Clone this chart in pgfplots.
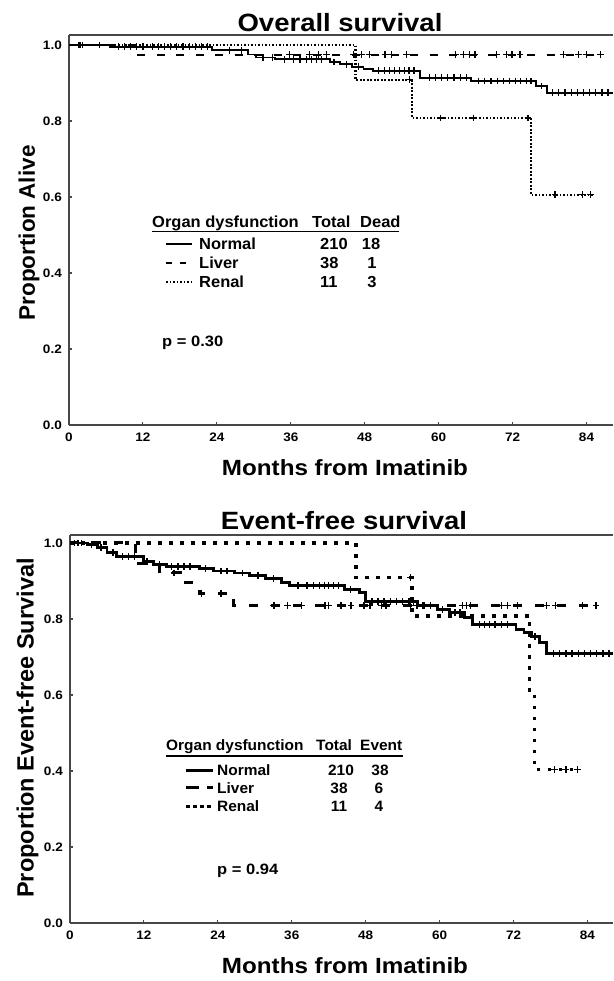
\documentclass[border=0pt]{standalone}
\usepackage{fontspec}
\setmainfont{Liberation Sans}[FakeStretch=1.1]
\newfontfamily\ylabfont{Liberation Sans}
\newfontfamily\legfont{Liberation Sans}[FakeStretch=1.03]
\usepackage{pgfplots}
\pgfplotsset{compat=1.18}

\pgfplotsset{
  kmaxis/.style={
    scale only axis, anchor=south west,
    axis x line*=bottom, axis y line*=left,
    x axis line style={-}, y axis line style={-},
    axis line style={black!72, line width=1.3pt},
    xmin=0, ymin=0,
    xtick={0,12,24,36,48,60,72,84},
    ytick={0,0.2,0.4,0.6,0.8,1.0},
    /pgf/number format/assume math mode=true,
    yticklabel style={/pgf/number format/fixed, /pgf/number format/fixed zerofill, /pgf/number format/precision=1, inner sep=0pt, xshift=-7pt},
    tick label style={font=\fontsize{12.3}{12.3}\selectfont\bfseries},
    xticklabel style={inner sep=0pt, yshift=-8pt},
    tick align=inside,
    major tick length=3pt,
    tick style={black!72, line width=1.1pt},
    clip=false,
  },
  censor/.style={only marks, mark=+, mark size=3.4pt, black, mark options={line width=1.2pt}},
}

\begin{document}
\begin{tikzpicture}[x=1pt,y=1pt]
\useasboundingbox (0pt,0pt) rectangle (613pt,981pt);

% ---------------- Overall survival ----------------
\node[anchor=base, font=\fontsize{25}{25}\selectfont\bfseries] at (340pt,949.3pt) {Overall survival};
\node[rotate=90, font=\ylabfont\fontsize{22.5}{22.5}\selectfont\bfseries] at (29pt,748pt) {Proportion Alive};
\node[anchor=base, font=\fontsize{22}{22}\selectfont\bfseries] at (345pt,505.7pt) {Months from Imatinib};

\begin{axis}[kmaxis, at={(69pt,556pt)}, width=544pt, height=390pt, xmax=88.3, ymax=1.0263]
\draw[black!72, line width=1.3pt] (rel axis cs:0,1) -- (rel axis cs:1,1);
% Normal
\addplot[const plot, black, line width=1.9pt] coordinates {
(0,1) (6.6,0.995) (23.2,0.986) (29.1,0.975) (30.4,0.967) (33.5,0.962) (42.4,0.955) (44,0.949) (45.9,0.943) (47.8,0.936) (49.4,0.932) (57,0.914) (65.3,0.905) (75.8,0.892) (77.6,0.874) (88.3,0.874)};
\addplot[censor] coordinates {
(1.5,1)(2.2,1)(5,1)(8,0.995)(9,0.995)(10,0.995)(11,0.995)(12,0.995)(13.5,0.995)(14.5,0.995)(15.5,0.995)(16.5,0.995)(17.5,0.995)(18.5,0.995)(19.5,0.995)(20.5,0.995)(21.5,0.995)(22.5,0.995)(26,0.986)(28,0.986)(31.5,0.967)(33,0.967)(35,0.962)(36.5,0.962)(37.5,0.962)(38.5,0.962)(39.3,0.962)(40.2,0.962)(41,0.962)(43,0.955)(45,0.949)(47,0.943)(50.3,0.932)(51.2,0.932)(52,0.932)(52.8,0.932)(53.6,0.932)(54.4,0.932)(55.2,0.932)(56,0.932)(58.5,0.914)(59.5,0.914)(60.5,0.914)(61.5,0.914)(62.5,0.914)(63.5,0.914)(64.5,0.914)(66.5,0.905)(67.5,0.905)(68.5,0.905)(69.5,0.905)(70.5,0.905)(71.5,0.905)(72.5,0.905)(73.3,0.905)(74.2,0.905)(75,0.905)(76.7,0.892)(78.5,0.874)(79.5,0.874)(80.5,0.874)(81.5,0.874)(82.5,0.874)(83.5,0.874)(84.5,0.874)(85.5,0.874)(86.5,0.874)(87.5,0.874)};
% Liver
\addplot[const plot, black, line width=1.9pt, dash pattern=on 8pt off 11.5pt] coordinates {
(0,1) (10.7,0.974) (86.3,0.974)};
\addplot[censor] coordinates {
(35.8,0.974)(39,0.974)(40.5,0.974)(41.8,0.974)(46.2,0.974)(47.5,0.974)(48.8,0.974)(51.3,0.974)(52.3,0.974)(54.8,0.974)(62.7,0.974)(64,0.974)(65,0.974)(65.9,0.974)(69.4,0.974)(71,0.974)(71.9,0.974)(73.2,0.974)(80.2,0.974)(82.7,0.974)(84,0.974)(86.3,0.974)};
% Renal
\addplot[const plot, black, line width=2.1pt, dash pattern=on 1.7pt off 1.8pt] coordinates {
(0,1) (46.5,0.909) (55.7,0.808) (75,0.606) (85.2,0.606)};
\addplot[censor] coordinates {
(1.8,1)(55.3,0.909)(60.3,0.808)(65.6,0.808)(74.5,0.808)(78.9,0.606)(83.4,0.606)(84.6,0.606)};
\end{axis}

% legend (top)
\begin{scope}[font=\legfont\fontsize{16}{16}\selectfont\bfseries]
\node[anchor=base west, inner sep=0pt] at (152pt,753.7pt) {Organ dysfunction};
\node[anchor=base west, inner sep=0pt] at (312pt,753.7pt) {Total};
\node[anchor=base west, inner sep=0pt] at (360pt,753.7pt) {Dead};
\draw[black, line width=1.4pt] (152pt,749.3pt) -- (399pt,749.3pt);
\draw[black, line width=1.9pt] (166pt,737.2pt) -- (192pt,737.2pt);
\draw[black, line width=1.9pt, dash pattern=on 6pt off 8pt] (166pt,718.2pt) -- (192pt,718.2pt);
\draw[black, line width=2.1pt, dash pattern=on 1.7pt off 1.8pt] (166pt,699.2pt) -- (192pt,699.2pt);
\node[anchor=base west, inner sep=0pt] at (199pt,731.7pt) {Normal};
\node[anchor=base west, inner sep=0pt] at (199pt,712.7pt) {Liver};
\node[anchor=base west, inner sep=0pt] at (199pt,693.7pt) {Renal};
\node[anchor=base west, inner sep=0pt] at (320pt,731.7pt) {210};
\node[anchor=base west, inner sep=0pt] at (320pt,712.7pt) {38};
\node[anchor=base west, inner sep=0pt] at (320pt,693.7pt) {11};
\node[anchor=base, inner sep=0pt] at (371pt,731.7pt) {18};
\node[anchor=base, inner sep=0pt] at (372pt,712.7pt) {1};
\node[anchor=base, inner sep=0pt] at (372pt,693.7pt) {3};
\end{scope}
\node[anchor=base west, inner sep=0pt, font=\fontsize{15}{15}\selectfont\bfseries] at (162pt,634.3pt) {p = 0.30};

% ---------------- Event-free survival ----------------
\node[anchor=base, font=\fontsize{25}{25}\selectfont\bfseries] at (344pt,451pt) {Event-free survival};
\node[rotate=90, font=\ylabfont\fontsize{23.5}{23.5}\selectfont\bfseries] at (27.5pt,253pt) {Proportion Event-free Survival};
\node[anchor=base, font=\fontsize{22}{22}\selectfont\bfseries] at (345pt,7.7pt) {Months from Imatinib};

\begin{axis}[kmaxis, at={(70pt,58pt)}, width=543pt, height=388pt, xmax=88.15, ymax=1.021]
\draw[black!72, line width=1.3pt] (rel axis cs:0,1) -- (rel axis cs:1,1);
% Normal
\addplot[const plot, black, line width=2.8pt] coordinates {
(0,1)(2.8,0.995)(4.4,0.988)(6,0.974)(7.6,0.964)(11.9,0.951)(13.5,0.943)(15.7,0.938)(21,0.933)(23.3,0.926)(26.7,0.921)(29.2,0.915)(31.8,0.906)(34.3,0.895)(35.6,0.888)(44.5,0.877)(47,0.869)(48,0.845)(56.5,0.835)(59.7,0.825)(61.6,0.816)(64.1,0.803)(65.4,0.786)(72.4,0.772)(73.7,0.764)(74.9,0.754)(76.2,0.738)(77.4,0.709)(88.2,0.709)};
\addplot[censor, mark options={line width=1.4pt}] coordinates {
(0.7,1)(1.3,1)(1.9,1)(3.5,0.995)(5,0.988)(7,0.974)(8.5,0.964)(9.5,0.964)(10.5,0.964)(12.5,0.951)(14.5,0.943)(16.5,0.938)(17.5,0.938)(18.5,0.938)(19.5,0.938)(22,0.933)(24.5,0.926)(25.5,0.926)(28,0.921)(30.5,0.915)(33,0.906)(37,0.888)(38.5,0.888)(39.5,0.888)(40.5,0.888)(41.3,0.888)(42,0.888)(42.8,0.888)(43.6,0.888)(45.5,0.877)(49,0.845)(50,0.845)(51,0.845)(52,0.845)(53,0.845)(54,0.845)(55,0.845)(55.8,0.845)(57.5,0.835)(58.5,0.835)(60.5,0.825)(62.5,0.816)(63.3,0.816)(66.5,0.786)(67.3,0.786)(68.1,0.786)(69,0.786)(70,0.786)(71,0.786)(75.5,0.754)(78.5,0.709)(79.5,0.709)(80.5,0.709)(81.5,0.709)(82.5,0.709)(83.5,0.709)(84.5,0.709)(85.5,0.709)(86.5,0.709)(87.5,0.709)};
% Liver
\addplot[const plot, black, line width=3pt, dash pattern=on 9pt off 13pt] coordinates {
(0,1)(10.6,0.974)(11.2,0.947)(14.5,0.921)(18,0.895)(21,0.868)(26.6,0.835)(86,0.835)};
\addplot[censor, mark options={line width=1.4pt}] coordinates {
(16.9,0.921)(21.3,0.868)(24.5,0.868)(33.1,0.835)(35.3,0.835)(37.6,0.835)(41.4,0.835)(42,0.835)(44,0.835)(45.6,0.835)(47.7,0.835)(48.7,0.835)(50.6,0.835)(51.3,0.835)(55.3,0.835)(56.3,0.835)(57.3,0.835)(63.7,0.835)(64.4,0.835)(65,0.835)(70,0.835)(71,0.835)(72.6,0.835)(77.4,0.835)(78.8,0.835)(83.2,0.835)(85.4,0.835)};
% Renal
\addplot[const plot, black, line width=3.5pt, dash pattern=on 3.5pt off 7.5pt] coordinates {
(0,1)(46.4,0.909)(55.5,0.808)(74.6,0.606)(75.4,0.404)(82.6,0.404)};
\addplot[censor, mark options={line width=1.4pt}] coordinates {
(1.2,1)(55.3,0.909)(78.7,0.404)(80.5,0.404)(82.4,0.404)};
\end{axis}

% legend (bottom)
\begin{scope}[font=\legfont\fontsize{15}{15}\selectfont\bfseries]
\node[anchor=base west, inner sep=0pt] at (166pt,230pt) {Organ dysfunction};
\node[anchor=base west, inner sep=0pt] at (316pt,230pt) {Total};
\node[anchor=base west, inner sep=0pt] at (360pt,230pt) {Event};
\draw[black, line width=1.4pt] (166pt,225pt) -- (403pt,225pt);
\draw[black, line width=3pt] (186pt,210.5pt) -- (213pt,210.5pt);
\draw[black, line width=3pt, dash pattern=on 13pt off 8pt] (186pt,193pt) -- (213pt,193pt);
\draw[black, line width=3.5pt, dash pattern=on 3.5pt off 3.5pt] (186pt,174.5pt) -- (213pt,174.5pt);
\node[anchor=base west, inner sep=0pt] at (217pt,205.3pt) {Normal};
\node[anchor=base west, inner sep=0pt] at (217pt,187.7pt) {Liver};
\node[anchor=base west, inner sep=0pt] at (217pt,169.3pt) {Renal};
\node[anchor=base, inner sep=0pt] at (341pt,205.3pt) {210};
\node[anchor=base, inner sep=0pt] at (339pt,187.7pt) {38};
\node[anchor=base, inner sep=0pt] at (339pt,169.3pt) {11};
\node[anchor=base, inner sep=0pt] at (380pt,205.3pt) {38};
\node[anchor=base, inner sep=0pt] at (379pt,187.7pt) {6};
\node[anchor=base, inner sep=0pt] at (379pt,169.3pt) {4};
\end{scope}
\node[anchor=base west, inner sep=0pt, font=\fontsize{15}{15}\selectfont\bfseries] at (217pt,106pt) {p = 0.94};
\end{tikzpicture}
\end{document}
